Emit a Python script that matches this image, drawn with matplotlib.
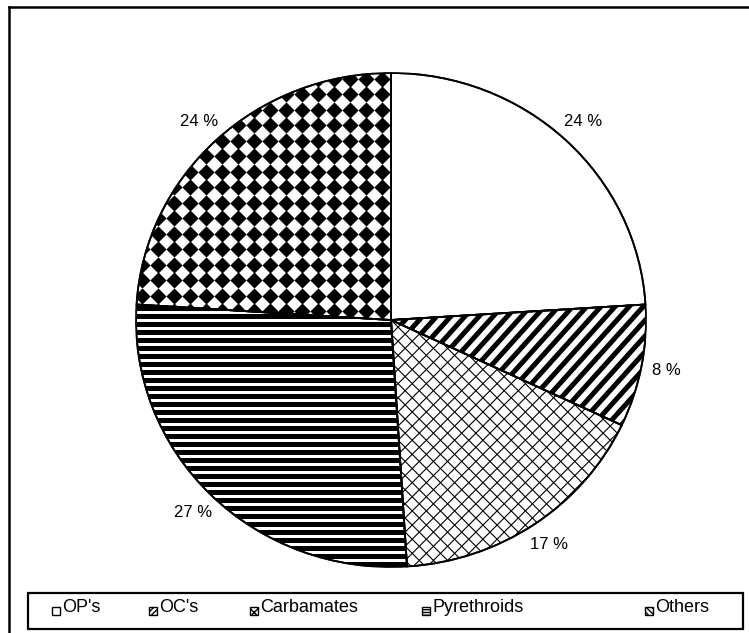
import numpy as np
import matplotlib.pyplot as plt
from matplotlib.collections import LineCollection
from matplotlib.patches import Rectangle, Wedge
from matplotlib.lines import Line2D

# data
labels = ["OP's", "OC's", "Carbamates", "Pyrethroids", "Others"]
shares = [24, 8, 17, 27, 24]

# layout in pixels
W, H = 749, 633
CX, CY, RX, RY = 391, 320, 255, 247

plt.rcParams['font.family'] = ['Liberation Sans', 'DejaVu Sans']

fig = plt.figure(figsize=(W / 100, H / 100), dpi=100)
ax = fig.add_axes([(CX - RX) / W, 1 - (CY + RY) / H, 2 * RX / W, 2 * RY / H])

wedges, texts, autotexts = ax.pie(
    shares, startangle=90, counterclock=False, colors=['white'] * len(shares),
    wedgeprops=dict(edgecolor='black', linewidth=1.3),
    autopct=lambda p: f'{p:.0f} %', pctdistance=1.1,
    textprops=dict(fontsize=12, color='black'))
ax.set_aspect('auto')
ax.set_xlim(-1, 1)
ax.set_ylim(-1, 1)
ax.axis('off')


def line_family(angle_deg, spacing):
    # parallel lines drawn in pixel space, converted to data units
    a = np.radians(angle_deg)
    d = np.array([np.cos(a), np.sin(a)])
    n = np.array([-np.sin(a), np.cos(a)])
    segs = []
    for k in np.arange(-420, 420, spacing):
        p0 = n * k - d * 420
        p1 = n * k + d * 420
        segs.append([(p0[0] / RX, p0[1] / RY), (p1[0] / RX, p1[1] / RY)])
    return segs


def add_lines(wedge, segs, lw):
    lc = LineCollection(segs, colors='black', linewidths=lw, zorder=2)
    ax.add_collection(lc)
    lc.set_clip_path(wedge)


# OC's: bold diagonal stripes
add_lines(wedges[1], line_family(48, 10.5), 3.6)
# Carbamates: thin diamond mesh
add_lines(wedges[2], line_family(45, 10) + line_family(-45, 10), 0.8)
# Pyrethroids: bold horizontal stripes
add_lines(wedges[3], line_family(0, 8), 3.6)
# Others: grid of black diamonds
gx, gy = np.meshgrid(np.arange(-400, 400, 16) + 7, np.arange(-400, 400, 15.5) + 6)
sc = ax.scatter(gx.ravel() / RX, gy.ravel() / RY, marker='D', s=68,
                color='black', linewidths=0, zorder=2)
sc.set_clip_path(wedges[4])
sc2 = ax.scatter(gx.ravel() / RX, gy.ravel() / RY, marker='o', s=42,
                 color='black', linewidths=0, zorder=2)
sc2.set_clip_path(wedges[4])

# outlines on top of the textures
for w in wedges:
    ax.add_patch(Wedge(w.center, w.r, w.theta1, w.theta2, fill=False,
                       edgecolor='black', linewidth=1.3, zorder=3))

# legend drawn by hand inside a box
leg_x = [52, 149, 250, 422, 645]
leg_hatch = ['', '//////', 'xxxx', '------', '\\\\\\\\\\\\']
sq = 8
for x, lab, hat in zip(leg_x, labels, leg_hatch):
    fig.add_artist(Rectangle((x / W, 1 - (611 + sq / 2) / H), sq / W, sq / H,
                             transform=fig.transFigure, facecolor='white',
                             edgecolor='black', hatch=hat, linewidth=1.0))
    fig.text((x + sq + 2) / W, 1 - 607 / H, lab, va='center', ha='left',
             fontsize=13)

fig.add_artist(Rectangle((28 / W, 1 - 629 / H), (743 - 28) / W, 36 / H,
                         transform=fig.transFigure, fill=False,
                         edgecolor='black', linewidth=1.6))

# outer frame (only top and left edges visible)
fig.add_artist(Line2D([9 / W, 9 / W], [0, 1 - 7 / H], color='black',
                      linewidth=1.8, transform=fig.transFigure))
fig.add_artist(Line2D([9 / W, 1], [1 - 7 / H, 1 - 7 / H], color='black',
                      linewidth=1.8, transform=fig.transFigure))

fig.savefig('out.png', dpi=100)
